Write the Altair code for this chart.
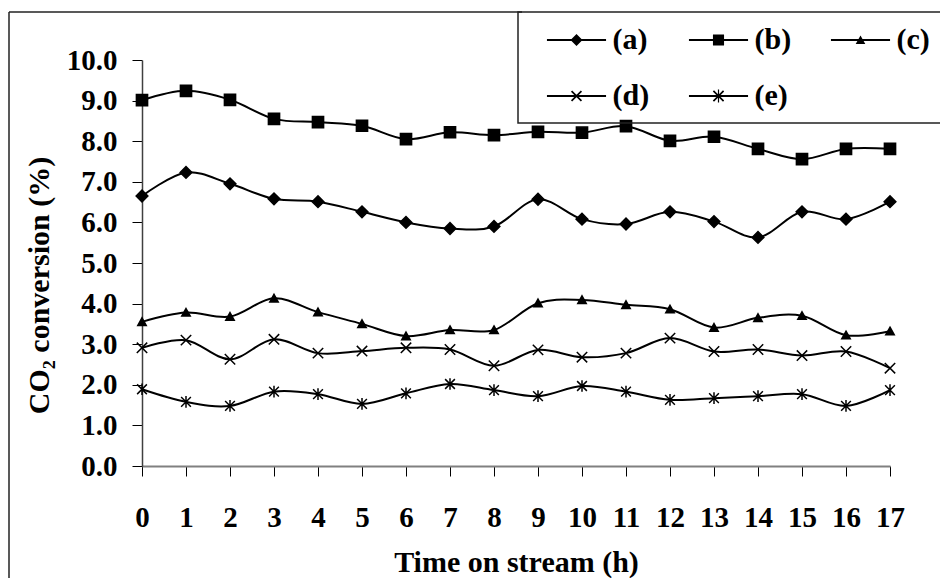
import altair as alt
import pandas as pd

# ---------------- data ----------------
hours = list(range(18))
series_names = ["(a)", "(b)", "(c)", "(d)", "(e)"]
conv_a = [6.65, 7.23, 6.95, 6.58, 6.51, 6.26, 6.00, 5.85, 5.90, 6.57, 6.08, 5.96, 6.26, 6.02, 5.63, 6.26, 6.08, 6.51]
conv_b = [9.01, 9.24, 9.02, 8.55, 8.47, 8.38, 8.05, 8.22, 8.15, 8.23, 8.21, 8.37, 8.01, 8.11, 7.81, 7.56, 7.81, 7.81]
conv_c = [3.55, 3.78, 3.68, 4.13, 3.79, 3.50, 3.20, 3.35, 3.35, 4.01, 4.09, 3.97, 3.86, 3.41, 3.65, 3.70, 3.22, 3.32]
conv_d = [2.91, 3.10, 2.63, 3.12, 2.78, 2.83, 2.91, 2.87, 2.47, 2.86, 2.68, 2.78, 3.15, 2.82, 2.87, 2.72, 2.82, 2.41]
conv_e = [1.89, 1.58, 1.48, 1.83, 1.77, 1.53, 1.79, 2.02, 1.87, 1.72, 1.97, 1.83, 1.63, 1.67, 1.72, 1.77, 1.48, 1.87]
y_ticks = [0, 1, 2, 3, 4, 5, 6, 7, 8, 9, 10]

rows = []
for name, vals in zip(series_names, [conv_a, conv_b, conv_c, conv_d, conv_e]):
    for h, v in zip(hours, vals):
        rows.append({"hour": h, "conv": v, "series": name})
df = pd.DataFrame(rows)

FONT = "Liberation Serif"

# markers drawn on the curves (unit box -1..1)
marker_paths = [
    "M-0.9,0L0,-0.9L0.9,0L0,0.9Z",
    "M-0.86,-0.86L0.86,-0.86L0.86,0.86L-0.86,0.86Z",
    "M0,-0.62L0.65,0.55L-0.65,0.55Z",
    "M-0.8,-0.8L0.8,0.8M-0.8,0.8L0.8,-0.8",
    "M-0.75,-0.75L0.75,0.75M-0.75,0.75L0.75,-0.75M0,-0.9L0,0.9",
]
# legend symbols: line + marker, all filled shapes
# (the leading moveTo only widens the entry bounds)
pad_pt = "M-2.83,-1.8"
line_seg = "M-1.97,-0.06L1.97,-0.06L1.97,0.06L-1.97,0.06Z"
x_small = ("M-0.29,-0.37L0.37,0.29L0.29,0.37L-0.37,-0.29Z"
           "M-0.29,0.37L-0.37,0.29L0.29,-0.37L0.37,-0.29Z")
x_ast = ("M-0.30,-0.38L0.38,0.30L0.30,0.38L-0.38,-0.30Z"
         "M-0.30,0.38L-0.38,0.30L0.30,-0.38L0.38,-0.30Z"
         "M-0.04,-0.44L0.04,-0.44L0.04,0.44L-0.04,0.44Z")
legend_paths = [
    pad_pt + line_seg + "M-0.4,0L0,-0.4L0.4,0L0,0.4Z",
    pad_pt + line_seg + "M-0.37,-0.37L0.37,-0.37L0.37,0.37L-0.37,0.37Z",
    pad_pt + line_seg + "M0,-0.3L0.32,0.26L-0.32,0.26Z",
    pad_pt + line_seg + x_small,
    pad_pt + line_seg + x_ast,
]

x_enc = alt.X(
    "hour:Q",
    scale=alt.Scale(domain=[0, 17], nice=False, zero=False),
    axis=alt.Axis(
        values=hours, title="Time on stream (h)", grid=False,
        labelFont=FONT, labelFontSize=29, labelFontWeight="bold", labelColor="black",
        labelPadding=27, labelFlush=False, labelOverlap=False,
        tickSize=10, tickColor="black", tickWidth=1,
        domainColor="#808080", domainWidth=2,
        titleFont=FONT, titleFontSize=30, titleFontWeight="bold", titleColor="black",
        titleY=105, titleBaseline="alphabetic",
    ),
)
y_enc = alt.Y(
    "conv:Q",
    scale=alt.Scale(domain=[0, 10], nice=False),
    axis=alt.Axis(
        values=y_ticks, format=".1f", title="CO₂ conversion (%)", grid=False,
        labelFont=FONT, labelFontSize=29, labelFontWeight="bold", labelColor="black",
        labelPadding=15, labelFlush=False, labelOverlap=False,
        tickSize=10, tickColor="black", tickWidth=1,
        domainColor="#404040", domainWidth=1.5,
        titleFont=FONT, titleFontSize=30, titleFontWeight="bold", titleColor="black",
        titleAngle=-90, titleX=-94, titleY=225, titleBaseline="alphabetic", titleAlign="center",
    ),
)

lines = alt.Chart(df).mark_line(
    color="black", strokeWidth=2, interpolate="cardinal"
).encode(x=x_enc, y=y_enc, detail="series:N")

points = alt.Chart(df).mark_point(
    filled=True, fill="black", stroke="black", strokeWidth=1.5, opacity=1, size=169
).encode(
    x=alt.X("hour:Q"), y=alt.Y("conv:Q"),
    shape=alt.Shape("series:N", scale=alt.Scale(domain=series_names, range=marker_paths), legend=None),
)

legend_layer = alt.Chart(df).transform_filter("false").mark_point(
    filled=True, fill="black", opacity=1
).encode(
    x=alt.X("hour:Q"), y=alt.Y("conv:Q"),
    shape=alt.Shape(
        "series:N",
        scale=alt.Scale(domain=series_names, range=legend_paths),
        legend=alt.Legend(
            title=None, orient="none", legendX=376, legendY=-48, columns=3,
            direction="horizontal",
            symbolSize=900, symbolOffset=30.5, labelOffset=20,
            symbolFillColor="black", symbolOpacity=1,
            labelFont=FONT, labelFontSize=30, labelFontWeight="bold", labelColor="black",
            columnPadding=22, rowPadding=11, padding=12,
            strokeColor="#222222",
        ),
    ),
)

border_data = alt.Data(values=[{}])
left_border = alt.Chart(border_data).mark_rule(color="#222222", strokeWidth=1.5).encode(
    x=alt.value(-133), y=alt.value(-48), y2=alt.value(540)
)
top_border = alt.Chart(border_data).mark_rule(color="#222222", strokeWidth=1.5).encode(
    x=alt.value(-133), x2=alt.value(380), y=alt.value(-48)
)

chart = (
    alt.layer(left_border, top_border, lines, points, legend_layer)
    .resolve_scale(shape="independent")
    .properties(
        width=748, height=406,
        autosize=alt.AutoSizeParams(type="none"),
        padding={"left": 134, "top": 52, "right": 50, "bottom": 112},
        background="white",
    )
    .configure_view(stroke=None)
    .configure_legend(strokeWidth=1.5)
)

chart.save("out.html", embed_options={"renderer": "svg", "actions": False})
